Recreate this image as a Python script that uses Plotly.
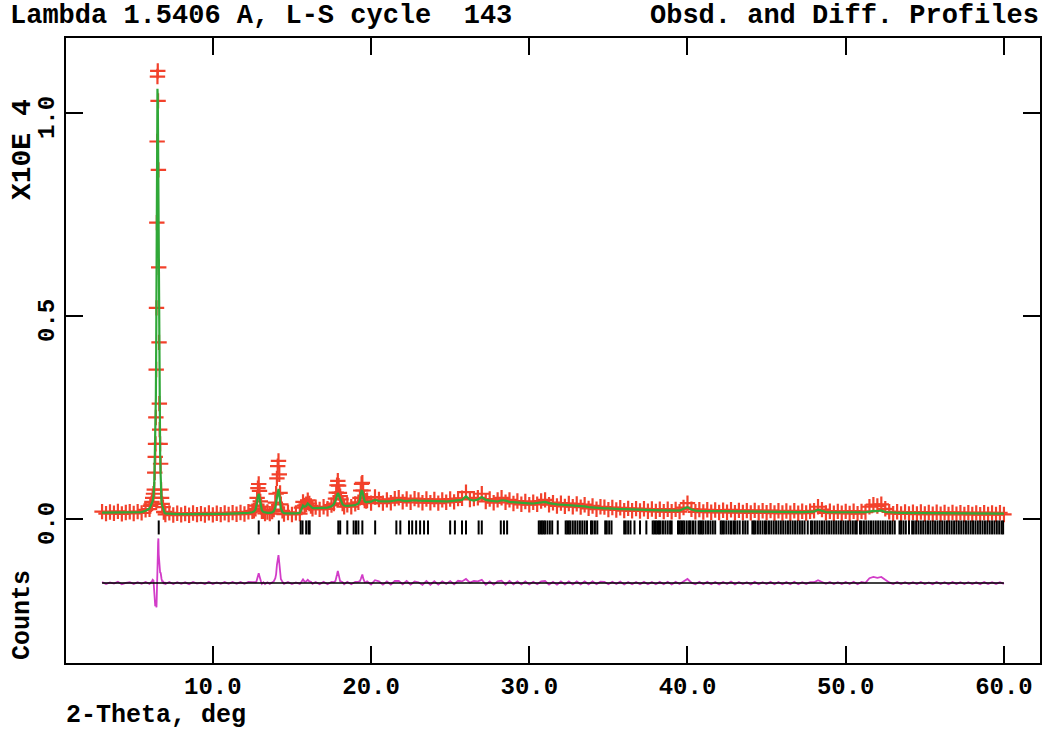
import numpy as np
import plotly.graph_objects as go

# ---------------- data ----------------
# 2-theta positions (deg) of the observed profile points
two_theta = [
    # 3 - 6 deg
    3.00, 3.25, 3.50, 3.75, 4.00, 4.25, 4.50, 4.75, 5.00, 5.25, 5.50, 5.75, 6.00,
    # main peak
    6.05, 6.10, 6.15, 6.20, 6.25, 6.30, 6.33, 6.36, 6.38, 6.40, 6.42, 6.44, 6.46,
    6.48, 6.50, 6.52, 6.54, 6.56, 6.58, 6.60, 6.62, 6.64, 6.67, 6.70, 6.73, 6.76,
    6.80, 6.85, 6.90, 6.95, 7.00,
    # 7 - 12.5 deg
    7.25, 7.50, 7.75, 8.00, 8.25, 8.50, 8.75, 9.00, 9.25, 9.50, 9.75, 10.00,
    10.25, 10.50, 10.75, 11.00, 11.25, 11.50, 11.75, 12.00, 12.25, 12.50,
    # peak 12.9
    12.60, 12.70, 12.75, 12.80, 12.85, 12.90, 12.95, 13.00, 13.05, 13.10, 13.20, 13.30,
    # peak 14.15
    13.45, 13.60, 13.75, 13.85, 13.95, 14.00, 14.05, 14.10, 14.15, 14.20, 14.25,
    14.30, 14.40, 14.50,
    14.75, 15.00, 15.25, 15.50,
    15.60, 15.70, 15.80, 15.90, 16.00, 16.10, 16.20, 16.30,
    16.50, 16.75, 17.00, 17.25, 17.50,
    # peak 17.9
    17.65, 17.75, 17.80, 17.85, 17.90, 17.95, 18.00, 18.05, 18.10, 18.20, 18.30,
    18.50, 18.75, 19.00, 19.20,
    # peak 19.45
    19.30, 19.35, 19.40, 19.45, 19.50, 19.55, 19.60, 19.70,
    # 19.75 - 60 deg
    19.75, 20.00, 20.25, 20.50, 20.75, 21.00, 21.25, 21.50,
    21.75, 22.00, 22.25, 22.50, 22.75, 23.00, 23.25, 23.50,
    23.75, 24.00, 24.25, 24.50, 24.75, 25.00, 25.25, 25.50,
    25.75, 26.00, 26.25, 26.50, 26.75, 27.00, 27.25, 27.50,
    27.75, 28.00, 28.25, 28.50, 28.75, 29.00, 29.25, 29.50,
    29.75, 30.00, 30.25, 30.50, 30.75, 31.00, 31.25, 31.50,
    31.75, 32.00, 32.25, 32.50, 32.75, 33.00, 33.25, 33.50,
    33.75, 34.00, 34.25, 34.50, 34.75, 35.00, 35.25, 35.50,
    35.75, 36.00, 36.25, 36.50, 36.75, 37.00, 37.25, 37.50,
    37.75, 38.00, 38.25, 38.50, 38.75, 39.00, 39.25, 39.50,
    39.75, 40.00, 40.25, 40.50, 40.75, 41.00, 41.25, 41.50,
    41.75, 42.00, 42.25, 42.50, 42.75, 43.00, 43.25, 43.50,
    43.75, 44.00, 44.25, 44.50, 44.75, 45.00, 45.25, 45.50,
    45.75, 46.00, 46.25, 46.50, 46.75, 47.00, 47.25, 47.50,
    47.75, 48.00, 48.25, 48.50, 48.75, 49.00, 49.25, 49.50,
    49.75, 50.00, 50.25, 50.50, 50.75, 51.00, 51.25, 51.50,
    51.75, 52.00, 52.25, 52.50, 52.75, 53.00, 53.25, 53.50,
    53.75, 54.00, 54.25, 54.50, 54.75, 55.00, 55.25, 55.50,
    55.75, 56.00, 56.25, 56.50, 56.75, 57.00, 57.25, 57.50,
    57.75, 58.00, 58.25, 58.50, 58.75, 59.00, 59.25, 59.50,
    59.75, 60.00,
]

# observed counts
obs_counts = [
    180, 130, 170, 140, 185, 125, 160, 175, 135, 180, 150, 225, 240,
    320, 360, 420, 520, 620, 720, 1140, 1530, 1850, 2500, 3680, 5200, 7300,
    9300, 10900, 11040, 10300, 8600, 6200, 4350, 2840, 2200, 1850, 1360, 720, 520,
    370, 290, 170, 175, 110,
    150, 95, 140, 100, 135, 90, 145, 105, 130, 95, 150, 100,
    140, 105, 150, 110, 155, 115, 160, 120, 175, 190,
    200, 250, 330, 520, 760, 860, 690, 430, 300, 190, 190, 135,
    170, 130, 180, 230, 400, 620, 1000, 1300, 1430, 1100, 640,
    360, 200, 120,
    160, 110, 150, 130,
    280, 420, 330, 360, 460, 380, 320, 250,
    290, 235, 300, 250, 340,
    380, 500, 650, 830, 940, 820, 640, 560, 480, 380, 300,
    350, 300, 370, 410,
    520, 700, 860, 890, 700, 520, 450, 440,
    460, 390, 540, 480, 390, 470, 400, 500,
    520, 420, 490, 410, 500, 470, 400, 490,
    400, 480, 390, 470, 410, 490, 420, 500,
    510, 660, 480, 500, 520, 620, 430, 490,
    400, 470, 520, 410, 470, 380, 440, 360,
    430, 350, 410, 360, 440, 470, 350, 400,
    320, 390, 310, 380, 300, 370, 290, 350,
    260, 320, 240, 300, 290, 230, 280, 220,
    275, 205, 260, 200, 255, 195, 250, 190,
    245, 185, 240, 180, 240, 175, 235, 180,
    280, 390, 240, 175, 230, 170, 225, 165,
    220, 160, 215, 165, 225, 155, 210, 160,
    205, 150, 210, 150, 200, 155, 205, 145,
    200, 145, 195, 140, 200, 140, 190, 145,
    190, 200, 300, 230, 150, 190, 140, 185,
    140, 185, 135, 190, 130, 185, 170, 300,
    350, 320, 360, 250, 175, 130, 175, 125,
    170, 125, 165, 120, 170, 120, 160, 115,
    165, 115, 160, 110, 160, 115, 155, 110,
    155, 110, 150, 105, 155, 110, 150, 108,
    152, 110,
]

# calculated counts
calc_counts = [
    155, 155, 154, 154, 153, 153, 154, 155, 157, 160, 170, 200, 260,
    300, 340, 380, 440, 560, 900, 1500, 2100, 2400, 3000, 4200, 5800, 7700,
    9400, 10600, 10400, 9300, 7500, 5500, 3800, 2500, 1900, 1600, 1100, 600, 420,
    330, 250, 190, 150, 135,
    125, 120, 118, 118, 117, 117, 118, 118, 119, 120, 121, 122,
    123, 124, 126, 128, 130, 133, 136, 140, 148, 165,
    185, 230, 300, 420, 560, 620, 520, 380, 270, 210, 170, 160,
    150, 150, 160, 190, 280, 400, 560, 700, 740, 600, 400,
    260, 170, 140,
    135, 133, 135, 150,
    250, 330, 300, 320, 380, 340, 290, 270,
    265, 265, 270, 280, 310,
    360, 450, 540, 620, 640, 600, 560, 520, 440, 360, 330,
    320, 330, 340, 380,
    470, 600, 690, 680, 580, 480, 430, 410,
    420, 425, 470, 440, 430, 430, 435, 450,
    470, 450, 440, 450, 460, 450, 445, 440,
    440, 435, 430, 430, 430, 440, 450, 445,
    470, 560, 470, 450, 480, 540, 470, 450,
    440, 430, 460, 450, 420, 410, 400, 395,
    390, 385, 380, 390, 400, 420, 390, 370,
    360, 350, 345, 340, 335, 330, 320, 310,
    290, 280, 270, 265, 260, 260, 250, 245,
    240, 240, 235, 230, 228, 225, 222, 220,
    218, 215, 212, 210, 210, 208, 206, 205,
    250, 290, 230, 205, 200, 198, 196, 195,
    194, 192, 190, 189, 188, 187, 186, 185,
    184, 182, 181, 180, 179, 178, 176, 175,
    174, 173, 172, 171, 170, 169, 168, 167,
    170, 180, 230, 200, 170, 165, 164, 163,
    162, 161, 160, 160, 159, 160, 165, 180,
    200, 190, 210, 170, 160, 155, 152, 150,
    149, 148, 147, 146, 145, 144, 143, 142,
    141, 140, 139, 138, 137, 136, 135, 134,
    133, 133, 132, 132, 131, 131, 130, 130,
    130, 130,
]

# reflection (hkl) tick positions, deg
reflections = [
    6.58, 12.90, 14.17, 15.55, 15.67, 15.90, 16.05, 16.12, 17.93, 18.05, 18.50,
    18.90, 19.05, 19.20, 19.45, 20.26, 21.60, 21.85, 22.40, 22.60, 22.85, 23.10,
    23.35, 23.60, 25.00, 25.30, 25.75, 26.00, 26.80, 27.00, 28.20, 28.40, 28.60,
    30.60, 30.70, 30.80, 30.90, 31.00, 31.15, 31.30, 31.45, 31.80, 32.30, 32.40,
    32.50, 32.60, 32.75, 32.90, 33.05, 33.20, 33.35, 33.50, 33.65, 33.90, 34.00,
    34.15, 34.30, 34.80, 34.90, 35.05, 35.20, 36.00, 36.10, 36.25, 36.40, 36.65,
    37.00, 37.40, 37.80, 37.90, 38.00, 38.10, 38.20, 38.30, 38.45, 38.60, 38.75,
    38.90, 39.00, 39.40, 39.50, 39.60, 39.70, 39.80, 39.95, 40.10, 40.20, 40.35,
    40.50, 40.70, 40.80, 40.90, 41.00, 41.15, 41.30, 41.45, 41.60, 41.75, 42.10,
    42.20, 42.30, 42.45, 42.60, 42.75, 42.90, 43.00, 43.15, 43.30, 43.50, 43.65,
    43.80, 44.10, 44.20, 44.30, 44.45, 44.60, 44.75, 44.90, 45.00, 45.15, 45.30,
    45.45, 45.60, 45.75, 45.90, 46.05, 46.20, 46.35, 46.50, 46.65, 46.80, 46.95,
    47.10, 47.25, 47.40, 47.60, 47.80, 47.90, 48.05, 48.20, 48.35, 48.50, 48.65,
    48.80, 48.95, 49.10, 49.25, 49.40, 49.55, 49.70, 49.85, 50.00, 50.15, 50.30,
    50.45, 50.60, 50.70, 50.90, 51.00, 51.15, 51.30, 51.45, 51.60, 51.75, 51.90,
    52.05, 52.20, 52.35, 52.50, 52.65, 52.80, 52.95, 53.10, 53.40, 53.50, 53.65,
    53.80, 54.00, 54.20, 54.30, 54.45, 54.60, 54.75, 54.90, 55.05, 55.20, 55.35,
    55.50, 55.65, 55.80, 55.95, 56.10, 56.25, 56.40, 56.55, 56.70, 56.85, 57.00,
    57.15, 57.30, 57.45, 57.60, 57.75, 57.90, 58.05, 58.20, 58.35, 58.50, 58.65,
    58.80, 58.95, 59.10, 59.25, 59.40, 59.55, 59.70, 59.85, 59.95,
]

diff_offset = -0.158      # difference curve baseline (x10^4 counts)
tick_row_y = -0.021       # row of reflection markers (x10^4 counts)

x_tick_vals = [10, 20, 30, 40, 50, 60]
x_tick_text = ["10.0", "20.0", "30.0", "40.0", "50.0", "60.0"]
y_tick_vals = [0.0, 0.5, 1.0]
y_tick_text = ["0.0", "0.5", "1.0"]

assert len(two_theta) == len(obs_counts) == len(calc_counts), (
    len(two_theta), len(obs_counts), len(calc_counts))

# ---------------- figure ----------------
SCALE = 1e4
obs = np.array(obs_counts) / SCALE
calc = np.array(calc_counts) / SCALE
diff = obs - calc + diff_offset

RED = "#f2412b"
GREEN = "#30a838"
MAGENTA = "#d23cc8"
FONT = "Liberation Mono, Courier New, monospace"

fig = go.Figure()
fig.add_trace(go.Scatter(
    x=two_theta, y=obs, mode="markers",
    marker=dict(symbol="cross-thin", size=11, color=RED,
                line=dict(width=2.2, color=RED)),
    hoverinfo="skip"))
fig.add_trace(go.Scatter(
    x=two_theta, y=calc, mode="lines",
    line=dict(color=GREEN, width=2.2), hoverinfo="skip"))
fig.add_trace(go.Scatter(
    x=reflections, y=[tick_row_y] * len(reflections), mode="markers",
    marker=dict(symbol="line-ns", size=10, color="black",
                line=dict(width=2, color="black")),
    hoverinfo="skip"))
fig.add_trace(go.Scatter(
    x=two_theta, y=diff, mode="lines",
    line=dict(color=MAGENTA, width=1.8), hoverinfo="skip"))
fig.add_trace(go.Scatter(
    x=[min(two_theta), max(two_theta)], y=[diff_offset, diff_offset],
    mode="lines", line=dict(color="black", width=1.4), hoverinfo="skip"))

axis_common = dict(
    showline=True, linecolor="black", linewidth=2, mirror="allticks",
    ticks="inside", ticklen=17, tickwidth=2, tickcolor="black",
    showgrid=False, zeroline=False,
    tickfont=dict(family=FONT, size=24, color="black", weight="bold"),
)

fig.update_layout(
    width=1046, height=729,
    margin=dict(l=66, r=4, t=38, b=66),
    paper_bgcolor="white", plot_bgcolor="white",
    showlegend=False,
    xaxis=dict(range=[0.72, 62.28], tickmode="array",
               tickvals=x_tick_vals, ticktext=x_tick_text, **axis_common),
    yaxis=dict(range=[-0.355, 1.185], tickmode="array",
               tickvals=y_tick_vals, ticktext=y_tick_text, tickangle=-90,
               ticklabelshift=8, **axis_common),
)

def paper_x(px):
    return (px - 66) / 976.0

def paper_y(py):
    return (663 - py) / 625.0

ann_font = dict(family=FONT, size=27, color="black", weight="bold")
fig.add_annotation(text="Lambda 1.5406 A, L-S cycle\u00a0\u00a0143",
                   xref="paper", yref="paper", x=paper_x(8), y=paper_y(16),
                   xanchor="left", yanchor="middle", showarrow=False,
                   font=ann_font)
fig.add_annotation(text="Obsd. and Diff. Profiles",
                   xref="paper", yref="paper", x=paper_x(1043), y=paper_y(16),
                   xanchor="right", yanchor="middle", showarrow=False,
                   font=ann_font)
fig.add_annotation(text="X10E\u00a04", textangle=-90,
                   xref="paper", yref="paper", x=paper_x(22), y=paper_y(150),
                   xanchor="center", yanchor="middle", showarrow=False,
                   font=dict(family=FONT, size=28, color="black", weight="bold"))
fig.add_annotation(text="Counts", textangle=-90,
                   xref="paper", yref="paper", x=paper_x(22), y=paper_y(615),
                   xanchor="center", yanchor="middle", showarrow=False,
                   font=dict(family=FONT, size=25, color="black", weight="bold"))
fig.add_annotation(text="2-Theta, deg",
                   xref="paper", yref="paper", x=paper_x(64), y=paper_y(715),
                   xanchor="left", yanchor="middle", showarrow=False,
                   font=dict(family=FONT, size=25, color="black", weight="bold"))

fig.write_html("out.html",
               config={"displayModeBar": False},
               post_script="document.body.style.margin='0px';")
